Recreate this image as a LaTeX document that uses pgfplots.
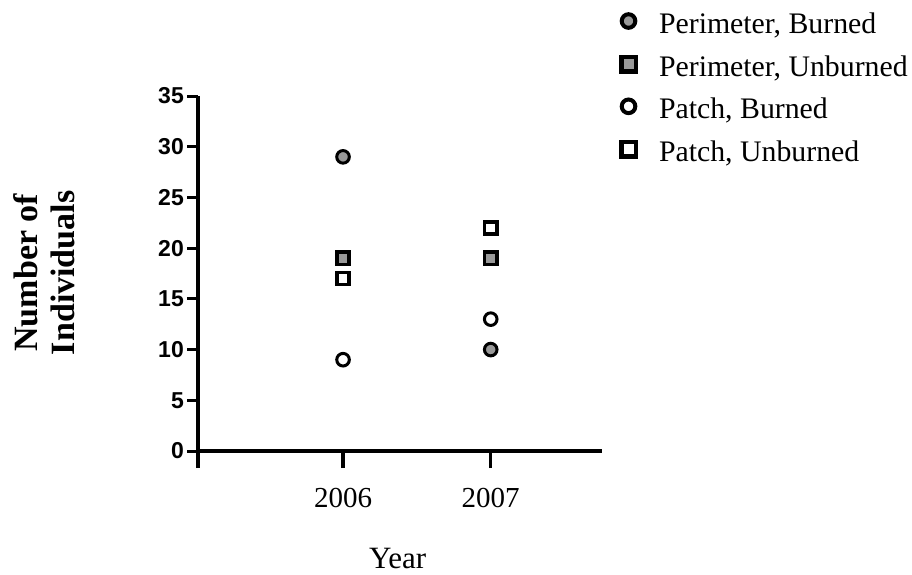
\documentclass[border=0pt]{standalone}
\usepackage{fontspec}
\setmainfont{Liberation Serif}
\newfontfamily\arialfont{Liberation Sans}
\usepackage{pgfplots}
\pgfplotsset{compat=1.18}
\definecolor{mgray}{RGB}{153,153,153}
\pgfplotsset{
  legcirc/.style={legend image code/.code={%
    \draw[line width=4pt, draw=black, fill=#1] (9.75pt,6pt) circle[radius=6.8pt];}},
  legsq/.style={legend image code/.code={%
    \draw[line width=4.5pt, draw=black, fill=#1] (2.5pt,-1.25pt) rectangle (17pt,13.25pt);}},
}
\begin{document}
\begin{tikzpicture}
\path[use as bounding box] (-198pt,-123pt) rectangle (714pt,451pt);
\begin{axis}[
  at={(0pt,0pt)}, anchor=south west,
  scale only axis, width=403.5pt, height=355pt,
  xmin=2005.018, xmax=2007.75, ymin=0, ymax=35,
  clip=false,
  axis lines=left,
  axis line style={-, line width=3.5pt, black},
  xtick={2005.018,2006,2007}, xticklabels={,2006,2007},
  ytick={0,5,10,15,20,25,30,35},
  yticklabels={\textbf{0},\textbf{5},\textbf{10},\textbf{15},\textbf{20},\textbf{25},\textbf{30},\textbf{35}},
  tick align=outside,
  major tick length=11pt,
  xtick style={line width=3.5pt, black, /pgfplots/major tick length=17pt},
  ytick style={line width=3pt, black},
  yticklabel style={font=\arialfont\bfseries\fontsize{23}{23}\selectfont, inner sep=0pt, xshift=-3pt},
  xticklabel style={font=\fontsize{29}{29}\selectfont, inner sep=0pt, yshift=-26pt},
  xlabel={Year},
  xlabel style={font=\fontsize{31}{31}\selectfont, at={(axis description cs:0.495,0)}, anchor=center, yshift=-107pt},
  ylabel={Number of\\Individuals},
  ylabel style={font=\bfseries\fontsize{34}{37}\selectfont, align=center, at={(axis description cs:0,0.502)}, anchor=center, yshift=154pt},
  legend style={at={(1.0355,1.2422)}, anchor=north west, draw=none, fill=none,
    font=\fontsize{29.8}{29.8}\selectfont, row sep=13pt, column sep=21pt,
    nodes={inner sep=0pt, text height=21pt, text depth=8pt}},
  legend cell align=left,
]
\addplot[only marks, mark=*, mark size=6.3pt, line width=3pt, draw=black, fill=mgray, legcirc=mgray]
  coordinates {(2006,29) (2007,10)};
\addlegendentry{Perimeter, Burned}
\addplot[only marks, mark=square*, mark size=6.1pt, line width=3.5pt, draw=black, fill=mgray, legsq=mgray]
  coordinates {(2006,19) (2007,19)};
\addlegendentry{Perimeter, Unburned}
\addplot[only marks, mark=*, mark size=6.3pt, line width=3pt, draw=black, fill=white, legcirc=white]
  coordinates {(2006,9) (2007,13)};
\addlegendentry{Patch, Burned}
\addplot[only marks, mark=square*, mark size=6.1pt, line width=3.5pt, draw=black, fill=white, legsq=white]
  coordinates {(2006,17) (2007,22)};
\addlegendentry{Patch, Unburned}
\end{axis}
\end{tikzpicture}
\end{document}
